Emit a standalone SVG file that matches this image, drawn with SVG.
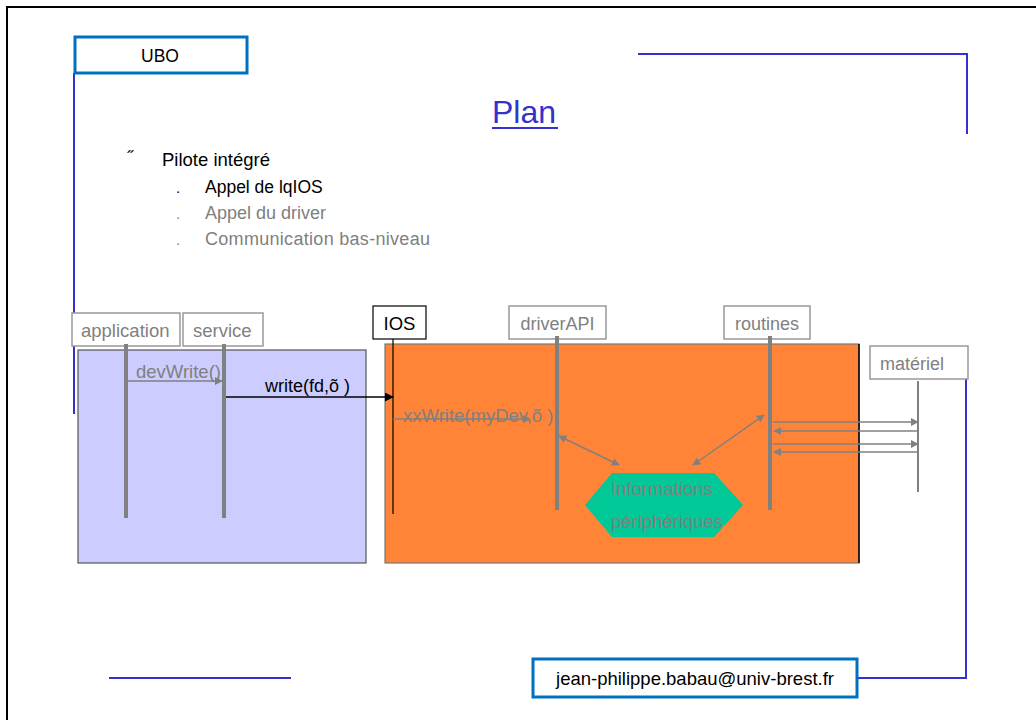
<svg xmlns="http://www.w3.org/2000/svg" width="1036" height="720" viewBox="0 0 1036 720">
<defs>
<style>
text{font-family:"Liberation Sans",Arial,sans-serif}
.gray{fill:#808080}
.lbl{fill:#fff;stroke:#999;stroke-width:1.5}
.life{stroke:#808080;stroke-width:4}
.blue{stroke:#3333CC;stroke-width:2;fill:none}
.tag{fill:#fff;stroke:#0070C0;stroke-width:3}
.ga{stroke:#808080;stroke-width:1.5;fill:none}
</style>
<marker id="ag" viewBox="0 0 10 10" refX="9" refY="5" markerWidth="8" markerHeight="8" markerUnits="userSpaceOnUse" orient="auto-start-reverse"><path d="M0,0 L10,5 L0,10 z" fill="#808080"/></marker>
<marker id="ab" viewBox="0 0 10 10" refX="9" refY="5" markerWidth="9" markerHeight="9" markerUnits="userSpaceOnUse" orient="auto"><path d="M0,0 L10,5 L0,10 z" fill="#000"/></marker>
</defs>
<rect x="0" y="0" width="1036" height="720" fill="#fff"/>
<rect x="7" y="7" width="1040" height="730" fill="none" stroke="#000" stroke-width="2"/>

<g id="frame">
<line class="blue" x1="74" y1="73" x2="74" y2="414"/>
<polyline class="blue" points="638,54 967,54 967,134"/>
<polyline class="blue" points="966,362 966,678 857,678"/>
<line class="blue" x1="109" y1="678" x2="291" y2="678"/>
</g>

<g id="ubo">
<rect class="tag" x="75" y="37" width="172" height="36"/>
<text x="160" y="62" font-size="17.5" text-anchor="middle" fill="#000">UBO</text>
</g>

<g id="title">
<text x="492" y="123" font-size="32" fill="#3333CC">Plan</text>
<line x1="492" y1="128" x2="558" y2="128" stroke="#3333CC" stroke-width="2"/>
</g>

<g id="bullets">
<text x="127" y="164" font-size="18" fill="#000">˝</text>
<text x="162" y="166" font-size="18.5" fill="#000">Pilote intégré</text>
<text x="176" y="193" font-size="15" fill="#000">.</text>
<text x="205" y="193" font-size="17.5" fill="#000">Appel de lqIOS</text>
<text x="176" y="219" font-size="15" class="gray">.</text>
<text x="205" y="219" font-size="18" class="gray">Appel du driver</text>
<text x="176" y="245" font-size="15" class="gray">.</text>
<text x="205" y="245" font-size="18" class="gray" textLength="225">Communication bas-niveau</text>
</g>

<g id="client-zone">
<rect x="78" y="350" width="288" height="213" fill="#CCCCFF" stroke="#555" stroke-width="1.2"/>
</g>
<g id="kernel-zone">
<rect x="385" y="344" width="474" height="219" fill="#FF8437" stroke="#777" stroke-width="1.2"/>
<line x1="859" y1="344" x2="859" y2="563" stroke="#000" stroke-width="1.5"/>
</g>

<g id="application">
<rect class="lbl" x="72" y="313" width="108" height="33"/>
<text x="81" y="337" font-size="18.5" class="gray">application</text>
<line class="life" x1="126" y1="344" x2="126" y2="518"/>
</g>
<g id="service">
<rect class="lbl" x="183" y="313" width="80" height="33"/>
<text x="193" y="337" font-size="18.5" class="gray">service</text>
<line class="life" x1="224" y1="344" x2="224" y2="518"/>
</g>
<g id="ios">
<rect x="373" y="306" width="53" height="33" fill="#fff" stroke="#000" stroke-width="1.2"/>
<text x="399.5" y="330" font-size="18.5" text-anchor="middle" fill="#000">IOS</text>
<line x1="393" y1="339" x2="393" y2="514" stroke="#000" stroke-width="1.2"/>
</g>
<g id="driverAPI">
<rect class="lbl" x="509" y="306" width="97" height="33"/>
<text x="557.5" y="330" font-size="18" class="gray" text-anchor="middle">driverAPI</text>
<line class="life" x1="557" y1="336" x2="557" y2="510"/>
</g>
<g id="routines">
<rect class="lbl" x="724" y="306" width="86" height="33"/>
<text x="767" y="330" font-size="18" class="gray" text-anchor="middle">routines</text>
<line class="life" x1="770" y1="336" x2="770" y2="510"/>
</g>
<g id="materiel">
<rect class="lbl" x="870" y="346" width="98" height="33"/>
<text x="880" y="370" font-size="18" class="gray">matériel</text>
<line x1="918" y1="381" x2="918" y2="492" stroke="#808080" stroke-width="2"/>
</g>
<g id="infos">
<polygon points="585,505 612,473 714,473 743,505 714,537 612,537" fill="#00C896"/>
<text x="611" y="495" font-size="18.5" class="gray">Informations</text>
<text x="611" y="528" font-size="18.5" class="gray">périphériques</text>
</g>

<g id="connectors">
<line class="ga" x1="128" y1="381" x2="222" y2="381" marker-end="url(#ag)"/>
<text x="136" y="378" font-size="18.5" class="gray">devWrite()</text>
<line x1="226" y1="397" x2="393" y2="397" stroke="#000" stroke-width="1.5" marker-end="url(#ab)"/>
<text x="265" y="392" font-size="18" fill="#000">write(fd,õ  )</text>
<line class="ga" x1="393" y1="419" x2="530" y2="419" marker-end="url(#ag)"/>
<text x="403" y="422" font-size="18.5" class="gray">xxWrite(myDev,õ  )</text>
<line class="ga" x1="559" y1="436" x2="619" y2="465" marker-start="url(#ag)" marker-end="url(#ag)"/>
<line class="ga" x1="693" y1="465" x2="764" y2="415" marker-start="url(#ag)" marker-end="url(#ag)"/>
<line class="ga" x1="773" y1="422" x2="918" y2="422" marker-end="url(#ag)"/>
<line class="ga" x1="919" y1="431" x2="774" y2="431" marker-end="url(#ag)"/>
<line class="ga" x1="773" y1="444" x2="918" y2="444" marker-end="url(#ag)"/>
<line class="ga" x1="919" y1="452" x2="774" y2="452" marker-end="url(#ag)"/>
</g>

<g id="email">
<rect class="tag" x="533" y="659" width="324" height="38"/>
<text x="695" y="685" font-size="18.5" text-anchor="middle" fill="#000">jean-philippe.babau@univ-brest.fr</text>
</g>
</svg>
